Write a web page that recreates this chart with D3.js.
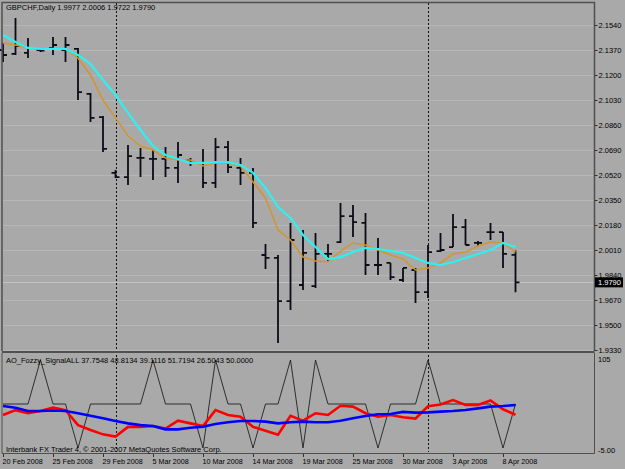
<!DOCTYPE html>
<html>
<head>
<meta charset="utf-8">
<script src="https://cdn.jsdelivr.net/npm/d3@7"></script>
<style>
  body { margin: 0; background: #a9a9a9; }
  text { font-family: "Liberation Sans", Arial, sans-serif; font-size: 7.5px; fill: #000; }
</style>
</head>
<body>
<svg id="chart" width="625" height="469"></svg>
<script>
// bar dates (broker sends Sunday bars too)
const dates = ['20 Feb','21 Feb','22 Feb','24 Feb','25 Feb','26 Feb','27 Feb','28 Feb','29 Feb',
  '2 Mar','3 Mar','4 Mar','5 Mar','6 Mar','7 Mar','9 Mar','10 Mar','11 Mar','12 Mar','13 Mar','14 Mar',
  '16 Mar','17 Mar','18 Mar','19 Mar','20 Mar','23 Mar','24 Mar','25 Mar','26 Mar','27 Mar','28 Mar',
  '30 Mar','31 Mar','1 Apr','2 Apr','3 Apr','4 Apr','6 Apr','7 Apr','8 Apr','9 Apr'];

const open  = [2.1370,2.1343,2.1350,2.1370,2.1384,2.1370,2.1377,2.1071,2.0914,2.0534,2.0506,2.0636,2.0629,2.0629,
  2.0568,2.0622,2.0602,2.0466,2.0710,2.0568,2.0534,1.9976,1.9956,1.9663,1.9772,1.9765,1.9983,2.0064,2.0241,2.0194,
  1.9908,1.9922,1.9806,1.9874,1.9724,2.0003,2.0030,2.0166,2.0058,2.0132,2.0132,1.9977];
const high  = [2.1418,2.1588,2.1452,2.1384,2.1458,2.1458,2.1384,2.1078,2.0921,2.0554,2.0724,2.0704,2.0690,2.0710,
  2.0744,2.0636,2.0697,2.0772,2.0751,2.0636,2.0568,2.0051,1.9976,2.0194,2.0146,2.0126,2.0051,2.0330,2.0316,2.0262,
  2.0092,1.9922,1.9888,1.9888,2.0044,2.0126,2.0255,2.0221,2.0071,2.0194,2.0132,2.0006];
const low   = [2.1288,2.1336,2.1316,2.1356,2.1336,2.1288,2.1030,2.0880,2.0676,2.0500,2.0452,2.0506,2.0486,2.0506,
  2.0466,2.0581,2.0432,2.0432,2.0534,2.0452,2.0160,1.9881,1.9378,1.9602,1.9738,1.9752,1.9935,2.0058,2.0098,1.9840,
  1.9840,1.9806,1.9792,1.9650,1.9684,1.9996,2.0030,2.0044,2.0037,2.0078,1.9888,1.9722];
const close = [2.1336,2.1397,2.1384,2.1366,2.1404,2.1404,2.1084,2.0908,2.0697,2.0506,2.0649,2.0636,2.0629,2.0568,
  2.0656,2.0608,2.0466,2.0710,2.0574,2.0534,2.0194,1.9956,1.9663,2.0078,1.9990,1.9983,1.9983,2.0241,2.0200,1.9908,
  1.9908,1.9826,1.9888,1.9724,1.9996,2.0010,2.0166,2.0044,2.0058,2.0132,1.9983,1.9790];

// moving averages
const maCyan = [2.1472,2.1424,2.1384,2.1377,2.1377,2.1377,2.1336,2.1275,2.1166,2.1064,2.0942,2.0826,2.0717,2.0656,
  2.0629,2.0602,2.0602,2.0608,2.0608,2.0588,2.0534,2.0432,2.0302,2.0228,2.0112,2.0030,1.9949,1.9962,1.9996,2.0024,
  2.0017,2.0003,1.9990,1.9956,1.9922,1.9908,1.9928,1.9956,1.9983,2.0010,2.0058,2.0030];
const maOrange = [2.1418,2.1404,2.1384,2.1377,2.1377,2.1377,2.1316,2.1200,2.1030,2.0908,2.0785,2.0717,2.0690,2.0636,
  2.0622,2.0622,2.0581,2.0602,2.0602,2.0581,2.0472,2.0364,2.0146,2.0078,1.9962,1.9935,1.9928,2.0003,2.0058,2.0044,
  2.0010,1.9976,1.9949,1.9874,1.9888,1.9922,1.9983,1.9996,2.0037,2.0064,2.0058,1.9996];

// AO_Fozzy_SignalALL
const sigRed = [37.5,43,39.5,42,46,43,26,20.5,15.5,13,24,24,25,22,31,28,25,43,37.5,35.5,24,19.5,15,36.5,31,39.5,
  37.5,48,47,39.5,35.5,37.5,35,33.5,47.5,49.5,54.5,49,49,54,44,37.75];
const sigBlue = [47.7,45.8,42,42,42.6,42,39.4,36.7,33.7,30.7,28,26,25,21.2,21.2,23,24.2,27.3,29.2,30.7,30.7,30,28,
  29.2,30,29.2,29.2,31,33.7,36.4,38.3,38.6,41,40.2,40.5,41.3,42,43.2,45,47,47.7,48.8];
const sigBlack = [50,50,50,100,50,50,0,50,50,50,50,50,100,50,50,50,0,100,50,50,0,50,50,100,0,100,50,50,50,50,0,
  50,50,50,100,50,50,50,50,50,0,50];

const priceTicks = [2.1540,2.1370,2.1200,2.1030,2.0860,2.0690,2.0520,2.0350,2.0180,2.0010,1.9840,1.9670,1.9500,1.9330];
const dateTicks = ['20 Feb 2008','25 Feb 2008','29 Feb 2008','5 Mar 2008','10 Mar 2008','14 Mar 2008',
  '19 Mar 2008','25 Mar 2008','30 Mar 2008','3 Apr 2008','8 Apr 2008'];
const monthStarts = ['2 Mar', '1 Apr'];

const svg = d3.select('#chart');

const x = d3.scaleLinear().domain([0, dates.length - 1]).range([3, 515.5]);
const y = d3.scaleLinear().domain([1.9330, 2.1540]).range([350, 25]);
const yi = d3.scaleLinear().domain([0, 100]).range([448, 360]);

// background
svg.append('rect').attr('width', 625).attr('height', 469).attr('fill', '#a9a9a9');

// grid
const grid = svg.append('g').attr('stroke', '#b6b6b6').attr('stroke-width', 1);
grid.selectAll('line.h').data(priceTicks).enter().append('line')
  .attr('x1', 3).attr('x2', 594)
  .attr('y1', d => Math.round(y(d)) + 0.5).attr('y2', d => Math.round(y(d)) + 0.5);

// bid line
svg.append('line').attr('x1', 3).attr('x2', 594)
  .attr('y1', Math.round(y(close[close.length - 1])) + 0.5)
  .attr('y2', Math.round(y(close[close.length - 1])) + 0.5)
  .attr('stroke', '#c4c4c4');

// month separators
svg.selectAll('line.sep').data(monthStarts).enter().append('line')
  .attr('x1', d => Math.round(x(dates.indexOf(d))) + 0.5)
  .attr('x2', d => Math.round(x(dates.indexOf(d))) + 0.5)
  .attr('y1', 3).attr('y2', 452)
  .attr('stroke', '#111').attr('stroke-dasharray', '2,2');

// OHLC bars
const bars = svg.append('g').attr('stroke', '#0c0c14').attr('stroke-width', 1.8).attr('fill', 'none');
bars.selectAll('path').data(dates).enter().append('path')
  .attr('d', (d, i) => {
    const cx = x(i);
    return `M${cx},${y(high[i])}V${y(low[i])}` +
      `M${cx - 4},${y(open[i])}H${cx}` +
      `M${cx},${y(close[i])}H${cx + 4}`;
  });

// moving averages
const line = arr => d3.line().x((d, i) => x(i)).y(d => y(d))(arr);
svg.append('path').attr('d', line(maOrange)).attr('fill', 'none')
  .attr('stroke', '#d3952c').attr('stroke-width', 1.5);
svg.append('path').attr('d', line(maCyan)).attr('fill', 'none')
  .attr('stroke', '#2ef0f0').attr('stroke-width', 2.2);

// indicator lines
const iline = arr => d3.line().x((d, i) => x(i)).y(d => yi(d))(arr);
svg.append('path').attr('d', iline(sigBlack)).attr('fill', 'none')
  .attr('stroke', '#202020').attr('stroke-width', 0.9);
svg.append('path').attr('d', iline(sigRed)).attr('fill', 'none')
  .attr('stroke', '#ff0000').attr('stroke-width', 2.6);
svg.append('path').attr('d', iline(sigBlue)).attr('fill', 'none')
  .attr('stroke', '#0000ff').attr('stroke-width', 2.6);

// panel frames
const frame = svg.append('g').attr('fill', 'none').attr('stroke', '#505050');
frame.append('path').attr('d', 'M2,351V2.5H594.5V351').attr('stroke-width', 1.5);
frame.append('line').attr('x1', 2).attr('x2', 594.5).attr('y1', 352).attr('y2', 352).attr('stroke-width', 2);
frame.append('path').attr('d', 'M2,353V453.5H594.5V353').attr('stroke-width', 1);

// price axis
const yAxis = d3.axisRight(y).tickValues(priceTicks).tickSize(3).tickPadding(1)
  .tickFormat(d3.format('.4f'));
const ya = svg.append('g').attr('transform', 'translate(594.5,0)').call(yAxis);
ya.select('.domain').remove();
ya.selectAll('line').attr('stroke', '#303030');
ya.selectAll('text').attr('font-size', null);
ya.attr('font-family', null).attr('font-size', null);

// current price label
const cy = y(close[close.length - 1]);
svg.append('rect').attr('x', 595).attr('y', cy - 5).attr('width', 28).attr('height', 10).attr('fill', '#000');
svg.append('text').attr('x', 598).attr('y', cy + 2.7).style('fill', '#fff').text(d3.format('.4f')(close[close.length - 1]));

// indicator scale labels
svg.append('text').attr('x', 598).attr('y', 362).text('105');
svg.append('text').attr('x', 598).attr('y', 453).text('-5.00');

// date axis
const xAxis = d3.axisBottom(x).tickValues(d3.range(0, dates.length, 4)).tickSize(3).tickPadding(2)
  .tickFormat((d, i) => dateTicks[i]);
const xa = svg.append('g').attr('transform', 'translate(0,454)').call(xAxis);
xa.select('.domain').remove();
xa.attr('font-family', null).attr('font-size', null);
xa.selectAll('line').attr('stroke', '#303030');
xa.selectAll('text').attr('text-anchor', 'start').attr('dx', -1).style('font-size', '7.2px');

// captions
svg.append('text').attr('x', 6).attr('y', 10)
  .text(`GBPCHF,Daily  ${open[41].toFixed(4)} ${high[41].toFixed(4)} ${low[41].toFixed(4)} ${close[41].toFixed(4)}`);
svg.append('text').attr('x', 6).attr('y', 363)
  .text('AO_Fozzy_SignalALL 37.7548 48.8134 39.1116 51.7194 26.5043 50.0000');
svg.append('text').attr('x', 6).attr('y', 452)
  .text('Interbank FX Trader 4, \u00a9 2001-2007 MetaQuotes Software Corp.');
</script>
</body>
</html>
